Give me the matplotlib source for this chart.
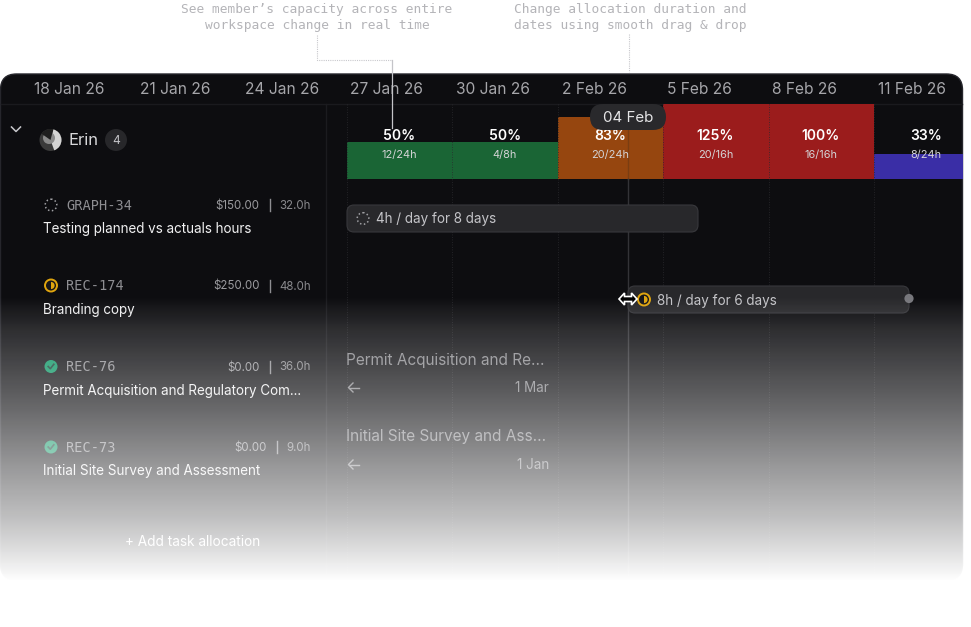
import numpy as np
import matplotlib
matplotlib.use("Agg")
import matplotlib.pyplot as plt
from matplotlib.patches import Circle, FancyBboxPatch, Polygon, Wedge

plt.rcParams["font.family"] = ["Inter", "DejaVu Sans"]

# header dates
dates = ["18 Jan 26", "21 Jan 26", "24 Jan 26", "27 Jan 26", "30 Jan 26",
         "2 Feb 26", "5 Feb 26", "8 Feb 26", "11 Feb 26"]

# capacity per block
pct = [50, 50, 83, 125, 100, 33]
hours_used = ["12/24h", "4/8h", "20/24h", "20/16h", "16/16h", "8/24h"]
cap_colors = ["#1a6535", "#1a6535", "#96460f", "#9b1c1c", "#9b1c1c", "#3a2ea6"]

# tasks
task_ids = ["GRAPH-34", "REC-174", "REC-76", "REC-73"]
task_names = ["Testing planned vs actuals hours", "Branding copy",
              "Permit Acquisition and Regulatory Com...", "Initial Site Survey and Assessment"]
task_costs = ["$150.00", "$250.00", "$0.00", "$0.00"]
task_hours = ["32.0h", "48.0h", "36.0h", "9.0h"]
task_status = ["todo", "progress", "done", "done"]

BG = "#0d0d10"
DAY_W = 105.4

fig = plt.figure(figsize=(9.71, 6.27), dpi=100, facecolor="white")
ax = fig.add_axes([0, 0, 1, 1])
ax.axis("off")


def status_icon(x, y, kind, z=6):
    if kind == "todo":
        ax.add_patch(Circle((x, y), 5.8, fill=False, ec="#a0a0a4", lw=1.1, ls=(0, (1, 1.6)), zorder=z))
    elif kind == "progress":
        ax.add_patch(Circle((x, y), 6, fc="#17171a", ec="#e0a50e", lw=1.4, zorder=z))
        ax.add_patch(Wedge((x, y), 3.6, -90, 90, fc="#e0a50e", ec="none", zorder=z))
    else:
        ax.add_patch(Circle((x, y), 6.5, fc="#0a9563", ec="none", zorder=z))
        ax.plot([x - 2.8, x - 0.7, x + 2.8], [y, y + 2.2, y - 2.2], color="#103c30", lw=1.2, zorder=z + 0.1)


# panel
ax.add_patch(FancyBboxPatch((0.5, 74), 962, 506, boxstyle="round,pad=0,rounding_size=16",
                            fc=BG, ec="#26262c", lw=1, zorder=1))
ax.plot([1, 962], [103.5, 103.5], color="#1a1a1e", lw=1, zorder=2)
ax.plot([326, 326], [104, 575], color="#1b1b1f", lw=1, zorder=2)

for i, d in enumerate(dates):
    ax.text(34 + i * 105.5, 90, d, color="#a6a6aa", fontsize=11.2, ha="left", va="center", zorder=6)

# capacity bars, full height at 100%
left = 347 + np.arange(len(pct)) * DAY_W
widths = [DAY_W] * 5 + [963 - left[5]]
heights = [min(p, 100) * 0.75 for p in pct]
ax.bar(left, [-h for h in heights], width=widths, bottom=179, align="edge", color=cap_colors, zorder=3)

# day guides
for x in left:
    ax.plot([x, x], [104, 575], color="#2a2a2e", lw=0.6, ls=(0, (1, 2)), zorder=4)

for i, p in enumerate(pct):
    cx = left[i] + DAY_W / 2 - 0.5
    ax.text(cx, 135.5, f"{p}%", color="white", fontsize=10, fontweight="semibold", ha="center", va="center", zorder=6)
    ax.text(cx, 155, hours_used[i], color="#d4d4d6", fontsize=7.9, ha="center", va="center", zorder=6)

# callouts
ax.text(317, 17.5, "See member\u2019s capacity across entire\nworkspace change in real time",
        family="DejaVu Sans Mono", fontsize=9.3, color="#b4b4b8", ha="center", va="center", linespacing=1.3)
ax.text(630, 17.5, "Change allocation duration and\ndates using smooth drag & drop",
        family="DejaVu Sans Mono", fontsize=9.3, color="#b4b4b8", ha="center", va="center", linespacing=1.3)
ax.plot([317, 317, 392], [35, 59.5, 59.5], color="#c8c8cc", lw=0.8, ls=(0, (1, 1)), zorder=7)
ax.plot([392, 392], [59.5, 128], color="#c4c4c8", lw=0.9, zorder=7)
ax.plot([629, 629], [34, 72], color="#c8c8cc", lw=0.8, ls=(0, (1, 1)), zorder=7)

# member row
ax.plot([11.5, 16, 20.5], [127, 131.5, 127], color="#c8c8cc", lw=1.1, zorder=6)
ax.add_patch(Circle((50.5, 140), 11, fc="#3a3a3a", ec="none", zorder=5))
ax.add_patch(Wedge((50.5, 140), 11, -75, 70, fc="#d4d4d4", ec="none", zorder=5.1))
ax.add_patch(Circle((49, 138), 6, fc="#8a8a8a", ec="none", zorder=5.2))
ax.add_patch(Wedge((50.5, 140), 11, 215, 285, fc="#1e1e1e", ec="none", zorder=5.3))
ax.text(69, 140.5, "Erin", color="#d8d8da", fontsize=12, va="center", zorder=6)
ax.add_patch(Circle((116, 140), 11, fc="#27272a", ec="none", zorder=5))
ax.text(116, 140.5, "4", color="#c4c4c8", fontsize=8.6, ha="center", va="center", zorder=6)

# task rows
id_y = [205, 285.5, 366.5, 447]
name_y = [228.5, 309, 390, 470.5]
for i in range(len(task_ids)):
    status_icon(51, id_y[i], task_status[i])
    ax.text(66, id_y[i] + 0.5, task_ids[i], family="DejaVu Sans Mono", color="#8e8e92", fontsize=9.8, va="center", zorder=6)
    ax.text(310.5, id_y[i] + 1, task_hours[i], color="#89898d", fontsize=8.3, ha="right", va="center", zorder=6)
    sep = 277 if len(task_hours[i]) == 4 else 269.5
    ax.plot([sep, sep], [id_y[i] - 6, id_y[i] + 6], color="#8e8e92", lw=1, zorder=6)
    ax.text(sep - 10, id_y[i] + 1, task_costs[i], color="#9a9a9e", fontsize=8.3, ha="right", va="center", zorder=6)
    ax.text(43, name_y[i] + 1, task_names[i], color="#f0f0f1", fontsize=9.7, va="center", zorder=6)

ax.text(193, 542, "+ Add task allocation", color="#ffffff", fontsize=9.8, ha="center", va="center", zorder=6)

# allocation bars
for x0, x1, y0 in [(347, 698, 205), (628, 909, 286)]:
    ax.add_patch(FancyBboxPatch((x0, y0), x1 - x0, 27, boxstyle="round,pad=0,rounding_size=7",
                                fc="#28282b", ec="#38383c", lw=0.8, zorder=5))
status_icon(363, 218.5, "todo")
ax.text(376, 219.5, "4h / day for 8 days", color="#c4c4c8", fontsize=9.7, va="center", zorder=6)
status_icon(644, 299.5, "progress")
ax.text(657, 300.5, "8h / day for 6 days", color="#c4c4c8", fontsize=9.7, va="center", zorder=6)
ax.add_patch(Circle((909, 298.5), 4.6, fc="#77777c", ec="none", zorder=6))

# playhead and its date pill
ax.plot([628, 628], [130, 179], color="#7a3d12", lw=1, zorder=4.5)
ax.plot([628, 628], [179, 575], color="#333337", lw=1, zorder=4.5)
ax.add_patch(FancyBboxPatch((590, 104), 76, 26, boxstyle="round,pad=0,rounding_size=13",
                            fc="#29292c", ec="none", zorder=6.5))
ax.text(628, 118, "04 Feb", color="#e4e4e6", fontsize=10.9, ha="center", va="center", zorder=7)

# ghost rows
ghost = [("Permit Acquisition and Re...", "1 Mar", 359, 387.5), ("Initial Site Survey and Ass...", "1 Jan", 436, 464.5)]
for title, when, y1, y2 in ghost:
    ax.text(346, y1 + 1, title, color="#88888c", fontsize=11.05, va="center", zorder=6)
    ax.text(549, y2 + 0.5, when, color="#88888c", fontsize=9.7, ha="right", va="center", zorder=6)
    ax.plot([348.5, 358.5], [y2, y2], color="#88888c", lw=1, zorder=6)
    ax.plot([353, 348.5, 353], [y2 - 4.5, y2, y2 + 4.5], color="#88888c", lw=1, zorder=6)

# white fade over the lower part, stops
fade_y = [296, 330, 400, 467, 517, 550, 580]
fade_gray = [13, 47, 99, 154, 192, 224, 255]
rows = np.arange(284, 584) + 0.5
fade = np.ones((300, 2, 4))
fade[:, :, 3] = ((np.interp(rows, fade_y, fade_gray) - 13) / 242)[:, None]
ax.imshow(fade, extent=(0, 971, 584, 284), aspect="auto", zorder=7.5, interpolation="bilinear")
ax.add_patch(plt.Rectangle((0, 583), 971, 44, fc="white", ec="none", zorder=9))

# resize cursor
cx, cy = 628, 299
ax.add_patch(Polygon([(cx - 9, cy), (cx - 3.5, cy - 6), (cx - 3.5, cy - 2.5), (cx + 3.5, cy - 2.5), (cx + 3.5, cy - 6),
                      (cx + 9, cy), (cx + 3.5, cy + 6), (cx + 3.5, cy + 2.5), (cx - 3.5, cy + 2.5), (cx - 3.5, cy + 6)],
                     closed=True, fc="black", ec="white", lw=1.2, zorder=8))

ax.set_xlim(0, 971)
ax.set_ylim(627, 0)

fig.savefig("out.png", dpi=100)
